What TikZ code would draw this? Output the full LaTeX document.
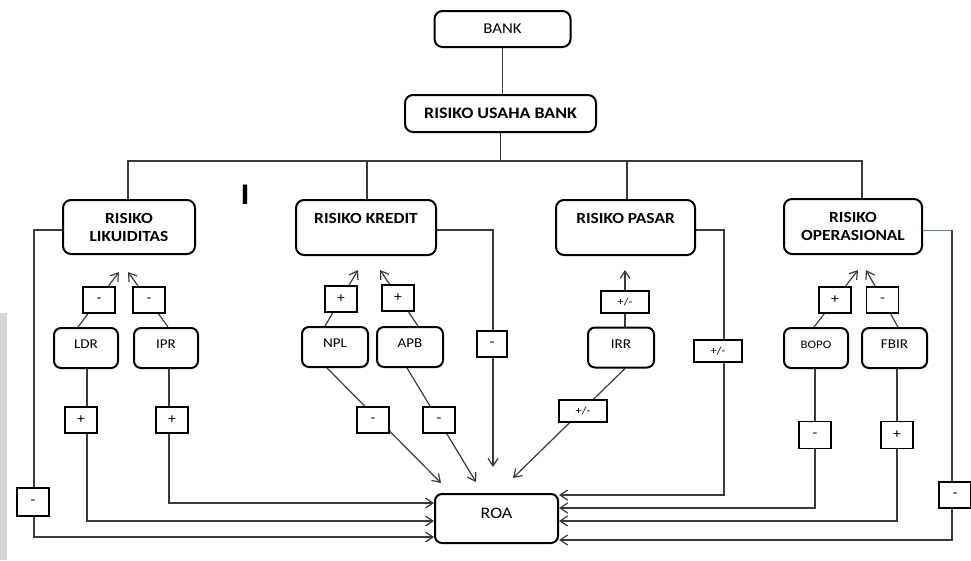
\documentclass[tikz,border=0pt]{standalone}
\usepackage{fontspec}
\setmainfont{Carlito}[FakeStretch=1.12]
\usetikzlibrary{arrows.meta,calc}
\definecolor{linec}{HTML}{3A3A3A}
\definecolor{bluel}{HTML}{4F81BD}
\pgfdeclarelayer{bg}
\pgfsetlayers{bg,main}
\begin{document}
\begin{tikzpicture}[x=1pt,y=-1pt,
 line/.style={draw=linec, line width=1.2pt},
 arr/.style={line, -{Straight Barb[length=7.5pt,width=10pt]}},
 bigbox/.style={draw=black, line width=2pt, rounded corners=8pt, fill=white, align=center,
   font=\fontsize{15.5}{18}\selectfont\bfseries, inner sep=0pt},
 smallbox/.style={draw=black, line width=2pt, rounded corners=7pt, fill=white,
   font=\fontsize{13.5}{16}\selectfont, inner sep=0pt, minimum width=64pt, minimum height=40pt,
   text height=9pt, text depth=8pt},
 sign/.style={draw=black, line width=1.1pt, fill=white, font=\fontsize{14}{16}\selectfont,
   inner sep=0pt, minimum width=32pt, minimum height=26pt},
 wsign/.style={sign, minimum width=48pt, minimum height=22pt, font=\fontsize{11}{13}\selectfont},
 ]
\useasboundingbox (0,0) rectangle (971,560);

% main nodes
\node[bigbox, minimum width=136pt, minimum height=36pt, font=\fontsize{15}{18}\selectfont] (bank) at (502.5,29) {BANK};
\node[bigbox, minimum width=191pt, minimum height=37pt, font=\fontsize{16}{18}\selectfont\bfseries] (rub) at (500.5,113.5) {RISIKO USAHA BANK};
\node[bigbox, minimum width=132pt, minimum height=54pt] (rl) at (129,227) {RISIKO\\LIKUIDITAS};
\node[bigbox, minimum width=140pt, minimum height=55pt] (rk) at (366,227.5) {RISIKO KREDIT\\\phantom{X}};
\node[bigbox, minimum width=139pt, minimum height=55pt] (rp) at (625.5,227.5) {RISIKO PASAR\\\phantom{X}};
\node[bigbox, minimum width=138pt, minimum height=55pt] (ro) at (853,226.5) {RISIKO\\OPERASIONAL};

\node[smallbox] (ldr) at (86,348) {LDR};
\node[smallbox] (ipr) at (166,348) {IPR};
\node[smallbox, minimum width=66pt] (npl) at (335,347) {NPL};
\node[smallbox, minimum width=66pt] (apb) at (410,347) {APB};
\node[smallbox, minimum width=66pt] (irr) at (621,347.5) {IRR};
\node[smallbox, font=\fontsize{11.5}{14}\selectfont] (bopo) at (816,348) {BOPO};
\node[smallbox, minimum width=65pt] (fbir) at (894.5,348) {FBIR};

\node[smallbox, minimum width=123pt, minimum height=49pt, font=\fontsize{16}{18}\selectfont,
  text height=10.5pt, text depth=11pt] (roa) at (496.5,518.5) {ROA};

\node[font=\fontsize{30}{32}\selectfont\bfseries, inner sep=0pt] (cursor) at (245,195) {I};

% sign boxes
\node[sign] (s1) at (99,300) {-};
\node[sign] (s2) at (149,300) {-};
\node[sign] (s3) at (341,299) {+};
\node[sign] (s4) at (398,298) {+};
\node[wsign] (s5) at (625,302) {+/-};
\node[sign] (s6) at (835,300) {+};
\node[sign] (s7) at (882.5,300) {-};
\node[sign] (s8) at (373,420) {-};
\node[sign] (s9) at (439,420) {-};
\node[wsign] (s10) at (583,411) {+/-};
\node[sign] (s11) at (81,420) {+};
\node[sign] (s12) at (172,420) {+};
\node[sign, minimum height=28pt] (s13) at (33,502) {-};
\node[sign, minimum width=30pt] (s14) at (492,344) {-};
\node[wsign] (s15) at (718,351) {+/-};
\node[sign] (s16) at (955,495) {-};
\node[sign, minimum height=27pt] (s17) at (815,435) {-};
\node[sign, minimum height=27pt] (s18) at (897,435) {+};

% coordinates
\coordinate (bar) at (500,161);
\coordinate (c1) at (128,161);
\coordinate (c2) at (367,161);
\coordinate (c3) at (627,161);
\coordinate (c4) at (862,161);
\coordinate (t1) at (119,272);
\coordinate (t2) at (128,272);
\coordinate (t3) at (358,270);
\coordinate (t4) at (380,270);
\coordinate (t5) at (625,270);
\coordinate (t6) at (858,270);
\coordinate (t7) at (866,270);
\coordinate (t8) at (441,483);
\coordinate (t9) at (476,482);
\coordinate (t10) at (513,478);
\coordinate (t11) at (493,467);
\coordinate (k1) at (34,230);
\coordinate (k2) at (34,537);
\coordinate (k3) at (87,521);
\coordinate (k4) at (169,503);
\coordinate (k5) at (493,230);
\coordinate (k6) at (724,230);
\coordinate (k7) at (724,495);
\coordinate (k8) at (952,230);
\coordinate (k9) at (952,540);
\coordinate (k10) at (815,508);
\coordinate (k11) at (897,521);

\begin{pgfonlayer}{bg}
\fill[gray!32] (0,313) rectangle (7,560);
% tree
\draw[line] (bank.south) -- (bank.south |- rub.north);
\draw[line] (rub.south) -- (rub.south |- bar);
\draw[line] (rl.north -| c1) -- (c1) -- (c4) -- (ro.north -| c4);
\draw[line] (c2) -- (rk.north -| c2);
\draw[line] (c3) -- (rp.north -| c3);
% upward arrows
\draw[arr] ($(ldr.north)+(-8,0)$) -- (t1);
\draw[arr] ($(ipr.north)+(2,0)$) -- (t2);
\draw[arr] ($(npl.north)+(-10,0)$) -- (t3);
\draw[arr] ($(apb.north)+(8,0)$) -- (t4);
\draw[arr] ($(irr.north)+(4,0)$) -- (t5);
\draw[arr] ($(bopo.north)+(-2,0)$) -- (t6);
\draw[arr] ($(fbir.north)+(3.5,0)$) -- (t7);
% diagonals to ROA
\draw[arr] ($(npl.south)+(-8,0)$) -- (t8);
\draw[arr] ($(apb.south)+(-3,0)$) -- (t9);
\draw[arr] ($(irr.south)+(4,0)$) -- (t10);
% verticals to ROA
\draw[arr] (ldr.south -| k3) -- (k3) -- (roa.west |- k3);
\draw[arr] (ipr.south -| k4) -- (k4) -- (roa.west |- k4);
\draw[arr] (rl.west |- k1) -- (k1) -- (k2) -- (roa.west |- k2);
\draw[arr] (rk.east |- k5) -- (k5) -- (t11);
\draw[arr] (rp.east |- k6) -- (k6) -- (k7) -- (roa.east |- k7);
\draw[draw=bluel, line width=1pt] (ro.east |- k8) -- (k8);
\draw[arr] (k8) -- (k9) -- (roa.east |- k9);
\draw[arr] (bopo.south -| k10) -- (k10) -- (roa.east |- k10);
\draw[arr] (fbir.south -| k11) -- (k11) -- (roa.east |- k11);
\end{pgfonlayer}
\end{tikzpicture}
\end{document}
